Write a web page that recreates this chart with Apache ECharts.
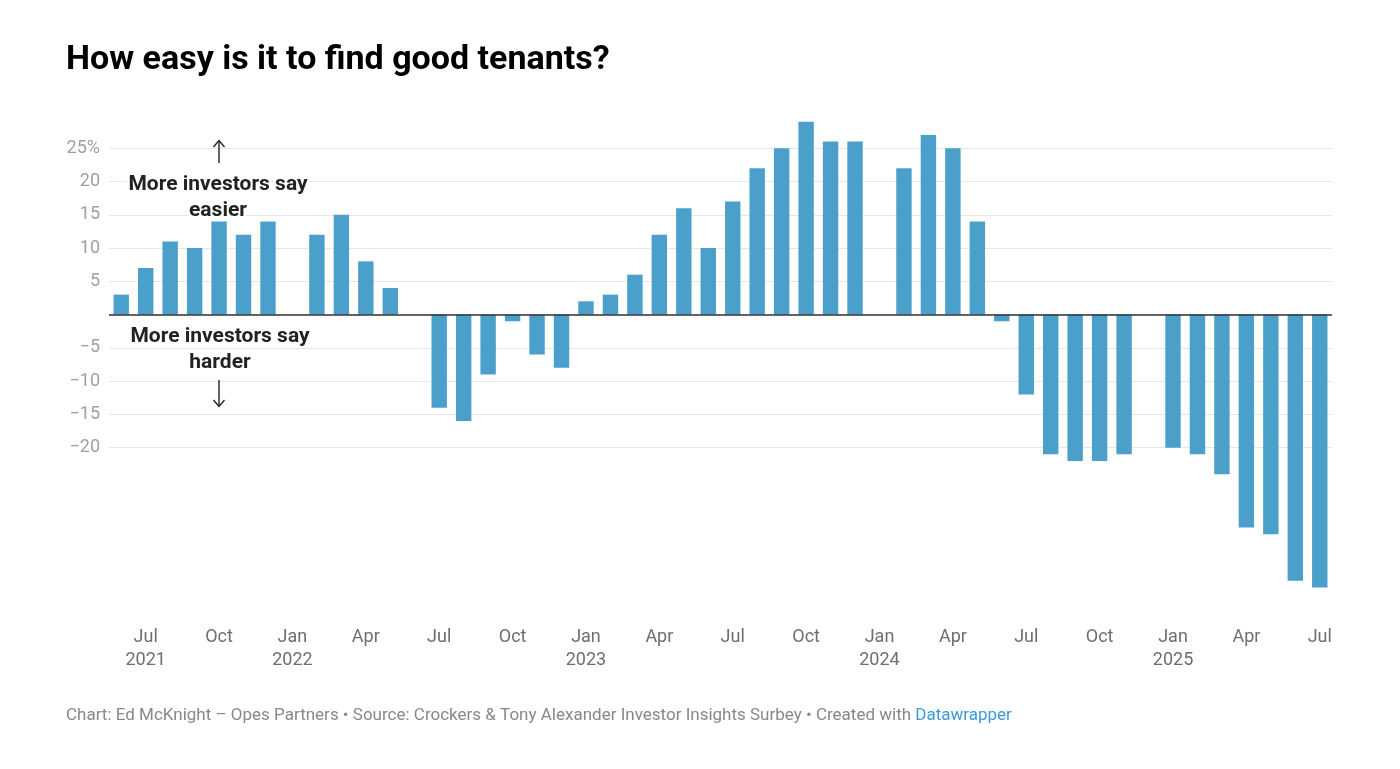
<!DOCTYPE html>
<html>
<head>
<meta charset="utf-8">
<script src="https://cdn.jsdelivr.net/npm/echarts@6/dist/echarts.min.js"></script>
<style>
  html, body { margin: 0; padding: 0; background: #fff; }
  #chart { width: 1400px; height: 769px; }
</style>
</head>
<body>
<div id="chart"></div>
<script>
const months = [
  '2021-06','2021-07','2021-08','2021-09','2021-10','2021-11','2021-12',
  '2022-01','2022-02','2022-03','2022-04','2022-05','2022-06','2022-07','2022-08','2022-09','2022-10','2022-11','2022-12',
  '2023-01','2023-02','2023-03','2023-04','2023-05','2023-06','2023-07','2023-08','2023-09','2023-10','2023-11','2023-12',
  '2024-01','2024-02','2024-03','2024-04','2024-05','2024-06','2024-07','2024-08','2024-09','2024-10','2024-11','2024-12',
  '2025-01','2025-02','2025-03','2025-04','2025-05','2025-06','2025-07'
];
const netBalance = [
  3, 7, 11, 10, 14, 12, 14,
  null, 12, 15, 8, 4, null, -14, -16, -9, -1, -6, -8,
  2, 3, 6, 12, 16, 10, 17, 22, 25, 29, 26, 26,
  null, 22, 27, 25, 14, -1, -12, -21, -22, -22, -21, null,
  -20, -21, -24, -32, -33, -40, -41
];
const monthNames = ['Jan','Feb','Mar','Apr','May','Jun','Jul','Aug','Sep','Oct','Nov','Dec'];
const tickMonths = ['01','04','07','10'];
const yLabelValues = [-20, -15, -10, -5, 5, 10, 15, 20, 25];

const chart = echarts.init(document.getElementById('chart'));
const font = 'Roboto, "Noto Sans", sans-serif';
const grey = '#e6e6e6', none = 'rgba(0,0,0,0)';

chart.setOption({
  animation: false,
  grid: { left: 109, right: 68, top: 115, bottom: 155, containLabel: false },
  xAxis: {
    type: 'category',
    data: months,
    axisLine: { show: false },
    axisTick: { show: false },
    splitLine: { show: false },
    axisLabel: {
      interval: function (index, value) { return tickMonths.indexOf(value.slice(5)) >= 0; },
      formatter: function (value) {
        const y = value.slice(0, 4), m = value.slice(5);
        const name = monthNames[parseInt(m, 10) - 1];
        if (m === '01' || value === '2021-07') return name + '\n' + y;
        return name;
      },
      color: '#6e6e6e',
      fontFamily: font,
      fontSize: 18,
      lineHeight: 23,
      margin: 12
    }
  },
  yAxis: {
    type: 'value',
    min: -45,
    max: 30,
    interval: 5,
    axisLine: { show: false },
    axisTick: { show: false },
    splitLine: {
      show: true,
      lineStyle: {
        width: 1,
        color: [none, none, none, none, none, grey, grey, grey, grey, grey, grey, grey, grey, grey, grey, none]
      }
    },
    axisLabel: {
      formatter: function (v) {
        if (yLabelValues.indexOf(v) < 0) return '';
        if (v === 25) return '25%';
        if (v < 0) return '\u2212' + Math.abs(v);
        return String(v);
      },
      color: '#a0a0a0',
      fontFamily: font,
      fontSize: 18,
      margin: 9
    }
  },
  series: [{
    type: 'bar',
    data: netBalance,
    barCategoryGap: '37%',
    itemStyle: { color: '#4ba0cb' },
    markLine: {
      silent: true,
      symbol: 'none',
      label: { show: false },
      lineStyle: { color: '#333', width: 1.6, type: 'solid' },
      data: [{ yAxis: 0 }]
    }
  }],
  graphic: [
    {
      type: 'text', left: 66, top: 43,
      style: { text: 'How easy is it to find good tenants?', fill: '#000', font: 'bold 34px ' + font }
    },
    {
      type: 'text', x: 66, y: 716,
      style: {
        text: '{a|Chart: Ed McKnight \u2013 Opes Partners \u2022 Source: Crockers & Tony Alexander Investor Insights Surbey \u2022 Created with }{b|Datawrapper}',
        textVerticalAlign: 'middle',
        rich: {
          a: { fill: '#888', fontFamily: font, fontSize: 17 },
          b: { fill: '#3d9ad6', fontFamily: font, fontSize: 17 }
        }
      }
    },
    {
      type: 'text', x: 218, y: 198, z: 100,
      style: {
        text: 'More investors say\neasier', textAlign: 'center', textVerticalAlign: 'middle',
        font: 'bold 21px ' + font, lineHeight: 26, fill: '#222', stroke: '#fff', lineWidth: 5
      }
    },
    {
      type: 'text', x: 220, y: 349.5, z: 100,
      style: {
        text: 'More investors say\nharder', textAlign: 'center', textVerticalAlign: 'middle',
        font: 'bold 21px ' + font, lineHeight: 26, fill: '#222', stroke: '#fff', lineWidth: 5
      }
    },
    { type: 'line', z: 100, shape: { x1: 219, y1: 163, x2: 219, y2: 141 }, style: { stroke: '#222', lineWidth: 1.4 } },
    { type: 'polyline', z: 100, shape: { points: [[213.5, 147], [219, 140.5], [224.5, 147]] }, style: { stroke: '#222', lineWidth: 1.4, fill: null } },
    { type: 'line', z: 100, shape: { x1: 219, y1: 380, x2: 219, y2: 406 }, style: { stroke: '#222', lineWidth: 1.4 } },
    { type: 'polyline', z: 100, shape: { points: [[213.5, 400], [219, 406.5], [224.5, 400]] }, style: { stroke: '#222', lineWidth: 1.4, fill: null } }
  ]
});
</script>
</body>
</html>
